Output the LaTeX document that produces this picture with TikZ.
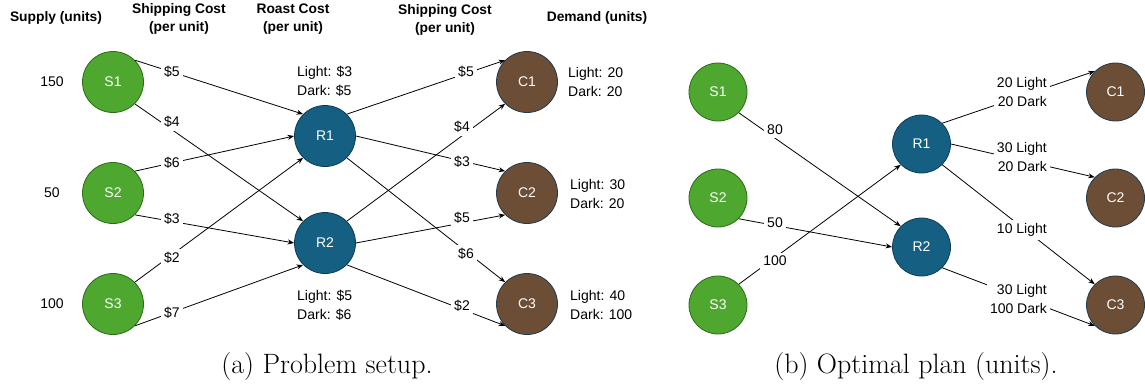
\documentclass[tikz,border=0pt]{standalone}
\usepackage{fontspec}
\setsansfont{Liberation Sans}
\usetikzlibrary{arrows.meta}
\definecolor{sgreen}{HTML}{4EA72E}
\definecolor{sgreenD}{HTML}{2D6A1A}
\definecolor{rblue}{HTML}{156082}
\definecolor{rblueD}{HTML}{0D3C52}
\definecolor{cbrown}{HTML}{6C4D35}
\definecolor{cbrownD}{HTML}{1F3B4D}
\begin{document}
\begin{tikzpicture}[x=1pt,y=-1pt,
  base/.style={circle, inner sep=0pt, line width=0.8pt, text=white,
    font=\sffamily\fontsize{14}{16}\selectfont},
  bigc/.style={base, minimum size=61pt},
  smallc/.style={base, minimum size=58pt},
  snode/.style={fill=sgreen, draw=sgreenD},
  rnode/.style={fill=rblue, draw=rblueD},
  cnode/.style={fill=cbrown, draw=cbrownD},
  lbl/.style={font=\sffamily\fontsize{14}{19}\selectfont, inner sep=1pt},
  cost/.style={lbl, fill=white, inner sep=3pt},
  hdr/.style={font=\sffamily\bfseries\fontsize{13.8}{18}\selectfont, align=center, inner sep=0pt},
  flow/.style={-{Stealth[length=6.5pt,width=5pt]}, line width=0.8pt},
  captext/.style={font=\rmfamily\fontsize{28}{32}\selectfont, inner sep=0pt}
]
\useasboundingbox (0,0) rectangle (1145,383);

% ---------- (a) Problem setup ----------
\node[bigc,snode] (S1) at (113,82) {S1};
\node[bigc,snode] (S2) at (113,193) {S2};
\node[bigc,snode] (S3) at (113,304) {S3};
\node[bigc,rnode] (R1) at (325,136) {R1};
\node[bigc,rnode] (R2) at (325,243) {R2};
\node[bigc,cnode] (C1) at (527,82) {C1};
\node[bigc,cnode] (C2) at (527,193) {C2};
\node[bigc,cnode] (C3) at (527,304) {C3};

\draw[flow] (S1.45) -- (R1.135);
\draw[flow] (S1.-45) -- (R2.135);
\draw[flow] (S2.45) -- (R1.west);
\draw[flow] (S2.-45) -- (R2.west);
\draw[flow] (S3.45) -- (R1.-135);
\draw[flow] (S3.-45) -- (R2.-135);
\draw[flow] (R1.45) -- (C1.135);
\draw[flow] (R2.45) -- (C1.-135);
\draw[flow] (R1.east) -- (C2.135);
\draw[flow] (R2.east) -- (C2.-135);
\draw[flow] (R1.-45) -- (C3.135);
\draw[flow] (R2.-45) -- (C3.-135);

\node[cost] (k1) at (172,72) {\$5};
\node[cost] (k2) at (172,122) {\$4};
\node[cost] (k3) at (172,163) {\$6};
\node[cost] (k4) at (172,219) {\$3};
\node[cost] (k5) at (172,258) {\$2};
\node[cost] (k6) at (172,313) {\$7};
\node[cost] (k7) at (466,72) {\$5};
\node[cost] (k8) at (462,127) {\$4};
\node[cost] (k9) at (462,162) {\$3};
\node[cost] (k10) at (462,218) {\$5};
\node[cost] (k11) at (466,254) {\$6};
\node[cost] (k12) at (462,306) {\$2};

\node[lbl] (sup1) at (52,82) {150};
\node[lbl] (sup2) at (52,193) {50};
\node[lbl] (sup3) at (52,304) {100};

\node[lbl, align=left, anchor=west] (rc1) at (296,81.5) {Light: \$3\\Dark: \$5};
\node[lbl, align=left, anchor=west] (rc2) at (296,305) {Light: \$5\\Dark: \$6};
\node[lbl, align=left, anchor=west] (d1) at (567,82) {Light: 20\\Dark: 20};
\node[lbl, align=left, anchor=west] (d2) at (569,193.5) {Light: 30\\Dark: 20};
\node[lbl, align=left, anchor=west] (d3) at (569,305) {Light: 40\\Dark: 100};

\node[hdr] (h1) at (56,17.5) {Supply (units)};
\node[hdr] (h2) at (179,19) {Shipping Cost\\(per unit)};
\node[hdr] (h3) at (293,19) {Roast Cost\\(per unit)};
\node[hdr] (h4) at (445,19.5) {Shipping Cost\\(per unit)};
\node[hdr] (h5) at (597,17.5) {Demand (units)};

\node[captext] (capa) at (327,367) {(a) Problem setup.};

% ---------- (b) Optimal plan ----------
\node[smallc,snode] (T1) at (718,92) {S1};
\node[smallc,snode] (T2) at (718,198) {S2};
\node[smallc,snode] (T3) at (718,305) {S3};
\node[smallc,rnode] (Q1) at (921.5,144) {R1};
\node[smallc,rnode] (Q2) at (921.5,247) {R2};
\node[smallc,cnode] (D1) at (1115.5,92) {C1};
\node[smallc,cnode] (D2) at (1115.5,198) {C2};
\node[smallc,cnode] (D3) at (1115.5,305) {C3};

\draw[flow] (T1.-45) -- (Q2.135);
\draw[flow] (T2.-45) -- (Q2.west);
\draw[flow] (T3.45) -- (Q1.-135);
\draw[flow] (Q1.45) -- (D1.135);
\draw[flow] (Q1.east) -- (D2.135);
\draw[flow] (Q1.-45) -- (D3.135);
\draw[flow] (Q2.-45) -- (D3.-135);

\node[cost] (f1) at (775,130) {80};
\node[cost] (f2) at (775,223) {50};
\node[cost] (f3) at (775,261) {100};
\node[cost, align=right, anchor=east] (f4) at (1050,92) {20 Light\\20 Dark};
\node[cost, align=right, anchor=east] (f5) at (1050,157) {30 Light\\20 Dark};
\node[cost, align=right, anchor=east] (f6) at (1050,230) {10 Light};
\node[cost, align=right, anchor=east] (f7) at (1050,299) {30 Light\\100 Dark};

\node[captext] (capb) at (916,367) {(b) Optimal plan (units).};
\end{tikzpicture}
\end{document}
